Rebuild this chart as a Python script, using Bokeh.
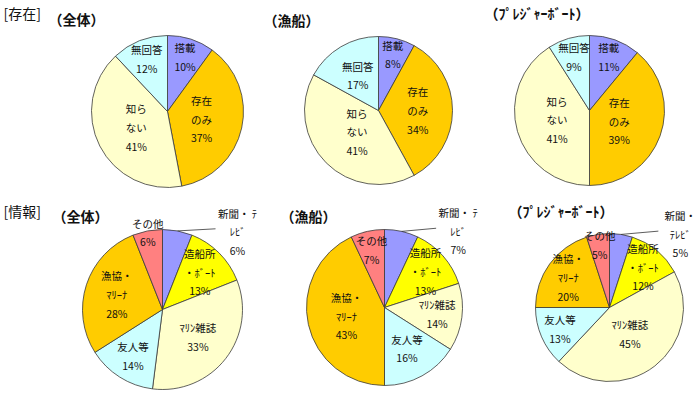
import numpy as np
from bokeh.plotting import figure
from bokeh.models import Range1d, ColumnDataSource
from bokeh.embed import file_html
from bokeh.resources import INLINE
from bokeh.core.properties import value

# ---------------- data ----------------
group_titles = ["[存在]", "[情報]"]
pie_titles = ["（全体）", "（漁船）", "（ﾌﾟﾚｼﾞｬｰﾎﾞｰﾄ）"]

exist_labels = ["搭載", "存在\nのみ", "知ら\nない", "無回答"]
exist_colors = ["#9999FF", "#FFCC00", "#FFFFCC", "#CCFFFF"]
exist_all = [10, 37, 41, 12]
exist_fishing = [8, 34, 41, 17]
exist_pleasure = [11, 39, 41, 9]

info_labels = ["新聞・ ﾃ\nﾚﾋﾞ", "造船所\n・ﾎﾞｰﾄ", "ﾏﾘﾝ雑誌", "友人等", "漁協・\nﾏﾘｰﾅ", "その他"]
info_labels_pleasure = ["新聞・\nﾃﾚﾋﾞ", "造船所\n・ﾎﾞｰﾄ", "ﾏﾘﾝ雑誌", "友人等", "漁協・\nﾏﾘｰﾅ", "その他"]
info_colors = ["#9999FF", "#FFFF00", "#FFFFCC", "#CCFFFF", "#FFCC00", "#FF8080"]
info_all = [6, 13, 33, 14, 28, 6]
info_fishing = [7, 13, 14, 16, 43, 7]
info_pleasure = [5, 12, 45, 13, 20, 5]

# ---------------- layout (screen px, y down) ----------------
W, H = 700, 396
FONT = "Noto Sans CJK JP"

pies = [
    dict(cx=167, cy=111, r=76, vals=exist_all, labels=exist_labels, colors=exist_colors,
         frac=[0.75, 0.46, 0.46, 0.74], outside_first=False),
    dict(cx=378, cy=110, r=74, vals=exist_fishing, labels=exist_labels, colors=exist_colors,
         frac=[0.78, 0.53, 0.41, 0.55], outside_first=False),
    dict(cx=589, cy=110, r=75, vals=exist_pleasure, labels=exist_labels, colors=exist_colors,
         frac=[0.76, 0.42, 0.45, 0.74], outside_first=False),
    dict(cx=162, cy=309, r=80, vals=info_all, labels=info_labels, colors=info_colors,
         frac=[0, 0.66, 0.56, 0.69, 0.60, 0.98], outside_first=True),
    dict(cx=384, cy=307, r=78, vals=info_fishing, labels=info_labels, colors=info_colors,
         frac=[0, 0.70, 0.68, 0.60, 0.50, 0.76], outside_first=True),
    dict(cx=609, cy=307, r=74, vals=info_pleasure, labels=info_labels_pleasure, colors=info_colors,
         frac=[0, 0.71, 0.45, 0.73, 0.69, 0.85], outside_first=True),
]

p = figure(width=W, height=H, output_backend="svg", toolbar_location=None,
           x_range=Range1d(0, W), y_range=Range1d(0, H), min_border=0)
p.axis.visible = False
p.grid.visible = False
p.outline_line_color = None
p.background_fill_color = "white"
p.border_fill_color = "white"


def Y(sy):
    return H - sy


for pie in pies:
    vals = np.array(pie["vals"], dtype=float)
    frac_vals = vals / vals.sum()
    cum = np.concatenate([[0], np.cumsum(frac_vals)])
    start = np.pi / 2 - 2 * np.pi * cum[:-1]
    end = np.pi / 2 - 2 * np.pi * cum[1:]
    src = ColumnDataSource(dict(x=[pie["cx"]] * len(vals), y=[Y(pie["cy"])] * len(vals),
                                start=start, end=end, color=pie["colors"]))
    p.wedge(x="x", y="y", radius=pie["r"], start_angle="start", end_angle="end",
            direction="clock", fill_color="color", line_color="#3a3a3a", line_width=0.8,
            source=src)

    lx, ly, lt = [], [], []
    for i, v in enumerate(pie["vals"]):
        mid = np.pi / 2 - 2 * np.pi * (cum[i] + frac_vals[i] / 2)
        text = f"{pie['labels'][i]}\n{v}%"
        if i == 0 and pie["outside_first"]:
            th = np.pi / 2 - np.radians(44)
            tx = pie["cx"] + (pie["r"] + 28) * np.cos(th)
            ty = Y(pie["cy"]) + (pie["r"] + 28) * np.sin(th)
            sx0 = pie["cx"] + pie["r"] * np.cos(mid)
            sy0 = Y(pie["cy"]) + pie["r"] * np.sin(mid)
            p.line([sx0, tx - 22], [sy0, ty + 3], line_color="#333333", line_width=0.8)
            lx.append(tx); ly.append(ty); lt.append(text)
            continue
        f = pie["frac"][i]
        lx.append(pie["cx"] + f * pie["r"] * np.cos(mid))
        ly.append(Y(pie["cy"]) + f * pie["r"] * np.sin(mid))
        lt.append(text)
    p.text(x=lx, y=ly, text=lt, text_font=value(FONT), text_font_size="10.5px",
           text_align="center", text_baseline="middle", text_line_height=1.25,
           text_color="#111111")

# titles
p.text(x=[3, 3], y=[Y(12), Y(210)], text=group_titles, text_font=value(FONT),
       text_font_size="14px", text_align="left", text_baseline="middle", text_color="#111111")
p.text(x=[48, 263, 484, 52, 280, 508], y=[Y(18), Y(19), Y(12), Y(215), Y(215), Y(210)],
       text=pie_titles + pie_titles, text_font=value(FONT), text_font_size="14px",
       text_font_style="bold", text_align="left", text_baseline="middle", text_color="#111111")

open("out.html", "w").write(file_html(p, INLINE))
